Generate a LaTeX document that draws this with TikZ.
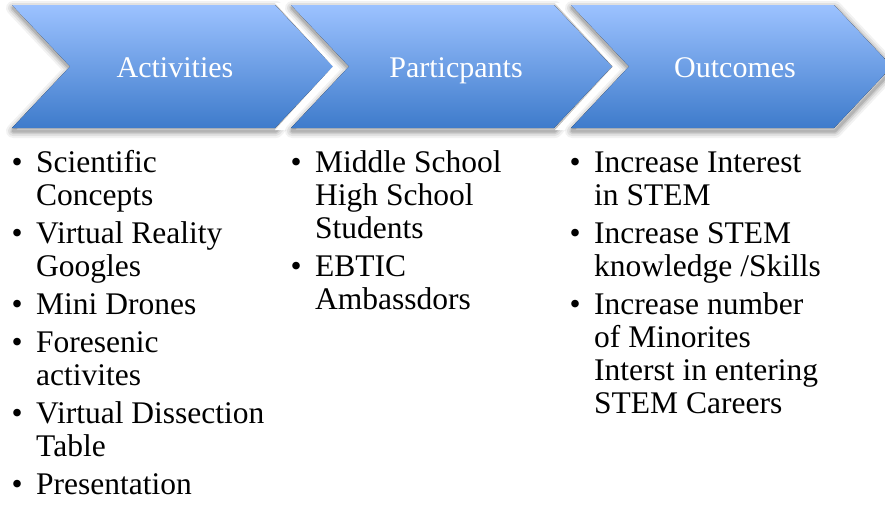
\documentclass[tikz,border=0pt]{standalone}
\usepackage{fontspec}
\setmainfont{Liberation Serif}
\definecolor{chevtop}{HTML}{9CC2FF}
\definecolor{chevbot}{HTML}{3E7BCB}
\tikzset{
  chevfill/.style={top color=chevtop, bottom color=chevbot, draw=none},
  head/.style={text=white, inner sep=0pt, anchor=base, font=\fontsize{30}{33}\selectfont},
  itm/.style={anchor=base west, inner sep=0pt, font=\fontsize{31.5}{33}\selectfont},
}
\begin{document}
\begin{tikzpicture}[x=1pt,y=-1pt]
\useasboundingbox (0,0) rectangle (885,512);
\begin{scope}
\clip (0,0) rectangle (885,512);
\foreach \x [count=\i] in {12,291,571}{
  \ifnum\i>1
    \fill[white] (\x-16,3) -- ++(263,0) -- ++(58,63.5) -- ++(-58,63.5) -- ++(-263,0) -- ++(58,-63.5) -- cycle;
  \fi
  \foreach \w/\o in {14/0.05,10/0.07,6/0.09,3/0.12}{
    \draw[line width=\w pt, black, opacity=\o, line join=round, shift={(1,3)}]
      (\x,5) -- ++(263,0) -- ++(58,61.5) -- ++(-58,61.5) -- ++(-263,0) -- ++(58,-61.5) -- cycle;
  }
  \fill[chevfill] (\x,5) -- ++(263,0) -- ++(58,61.5) -- ++(-58,61.5) -- ++(-263,0) -- ++(58,-61.5) -- cycle;
}
\end{scope}
\node[head] (h1) at (175,77) {Activities};
\node[head] (h2) at (456,77) {Particpants};
\node[head] (h3) at (735,77) {Outcomes};

% column 1
\node[itm] (b11) at (11.5,172) {•};
\node[itm] (a11) at (36,172) {\vtop{\hbox{Scientific}\hbox{Concepts}}};
\node[itm] (b12) at (11.5,243) {•};
\node[itm] (a12) at (36,243) {\vtop{\hbox{Virtual Reality}\hbox{Googles}}};
\node[itm] (b13) at (11.5,314) {•};
\node[itm] (a13) at (36,314) {Mini Drones};
\node[itm] (b14) at (11.5,352) {•};
\node[itm] (a14) at (36,352) {\vtop{\hbox{Foresenic}\hbox{activites}}};
\node[itm] (b15) at (11.5,423) {•};
\node[itm] (a15) at (36,423) {\vtop{\hbox{Virtual Dissection}\hbox{Table}}};
\node[itm] (b16) at (11.5,494) {•};
\node[itm] (a16) at (36,494) {Presentation};

% column 2
\node[itm] (b21) at (290.5,172) {•};
\node[itm] (a21) at (315,172) {\vtop{\hbox{Middle School}\hbox{High School}\hbox{Students}}};
\node[itm] (b22) at (290.5,276) {•};
\node[itm] (a22) at (315,276) {\vtop{\hbox{EBTIC}\hbox{Ambassdors}}};

% column 3
\node[itm] (b31) at (569.5,172) {•};
\node[itm] (a31) at (594,172) {\vtop{\hbox{Increase Interest}\hbox{in STEM}}};
\node[itm] (b32) at (569.5,243) {•};
\node[itm] (a32) at (594,243) {\vtop{\hbox{Increase STEM}\hbox{knowledge /Skills}}};
\node[itm] (b33) at (569.5,314) {•};
\node[itm] (a33) at (594,314) {\vtop{\hbox{Increase number}\hbox{of Minorites}\hbox{Interst in entering}\hbox{STEM Careers}}};
\end{tikzpicture}
\end{document}
